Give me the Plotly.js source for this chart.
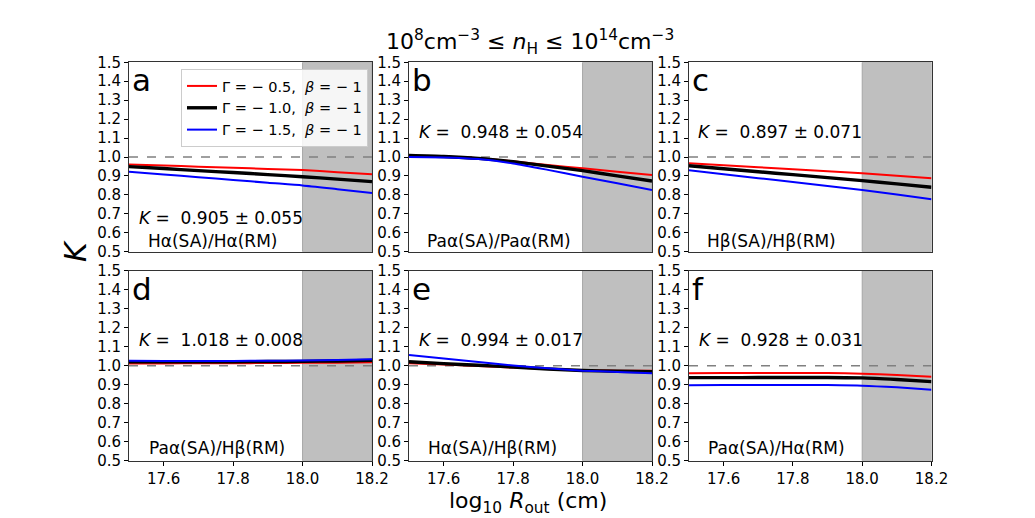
<!DOCTYPE html>
<html>
<head>
<meta charset="utf-8">
<script src="https://cdn.plot.ly/plotly-3.0.1.min.js"></script>
<style>html,body{margin:0;padding:0;background:#fff;}#chart{width:1035px;height:518px;}</style>
</head>
<body>
<div id="chart"></div>
<script>
// ---------- data ----------
const logR = [17.5, 17.6, 17.7, 17.8, 17.9, 18.0, 18.1, 18.2];

const seriesNames = [
  "\u0393 = \u2212 0.5,\u00a0 <i>\u03b2</i> = \u2212 1",
  "\u0393 = \u2212 1.0,\u00a0 <i>\u03b2</i> = \u2212 1",
  "\u0393 = \u2212 1.5,\u00a0 <i>\u03b2</i> = \u2212 1"
];

const panelLetters = ["a", "b", "c", "d", "e", "f"];
const panelRatios = ["H\u03b1(SA)/H\u03b1(RM)", "Pa\u03b1(SA)/Pa\u03b1(RM)", "H\u03b2(SA)/H\u03b2(RM)",
                     "Pa\u03b1(SA)/H\u03b2(RM)", "H\u03b1(SA)/H\u03b2(RM)", "Pa\u03b1(SA)/H\u03b1(RM)"];
const kMean = ["0.905", "0.948", "0.897", "1.018", "0.994", "0.928"];
const kErr  = ["0.055", "0.054", "0.071", "0.008", "0.017", "0.031"];

// panel a: Halpha/Halpha
const aRed   = [0.961, 0.955, 0.949, 0.943, 0.937, 0.931, 0.920, 0.909];
const aBlack = [0.949, 0.939, 0.928, 0.918, 0.907, 0.896, 0.883, 0.870];
const aBlue  = [0.922, 0.908, 0.893, 0.879, 0.864, 0.850, 0.830, 0.810];
// panel b: Paalpha/Paalpha
const bRed   = [1.007, 1.002, 0.993, 0.977, 0.958, 0.940, 0.922, 0.905];
const bBlack = [1.008, 1.003, 0.993, 0.975, 0.952, 0.928, 0.900, 0.873];
const bBlue  = [1.000, 0.998, 0.989, 0.966, 0.932, 0.896, 0.861, 0.826];
// panel c: Hbeta/Hbeta
const cRed   = [0.967, 0.956, 0.946, 0.935, 0.925, 0.914, 0.901, 0.888];
const cBlack = [0.954, 0.938, 0.922, 0.907, 0.891, 0.875, 0.858, 0.840];
const cBlue  = [0.930, 0.909, 0.888, 0.868, 0.847, 0.826, 0.802, 0.777];
// panel d: Paalpha/Hbeta
const dRed   = [1.012, 1.012, 1.013, 1.013, 1.014, 1.015, 1.016, 1.018];
const dBlack = [1.020, 1.020, 1.020, 1.021, 1.022, 1.023, 1.025, 1.028];
const dBlue  = [1.026, 1.025, 1.025, 1.025, 1.026, 1.027, 1.030, 1.034];
// panel e: Halpha/Hbeta
const eRed   = [1.013, 1.006, 0.998, 0.990, 0.982, 0.975, 0.974, 0.973];
const eBlack = [1.021, 1.011, 1.002, 0.993, 0.983, 0.975, 0.971, 0.968];
const eBlue  = [1.056, 1.038, 1.019, 1.001, 0.986, 0.974, 0.967, 0.960];
// panel f: Paalpha/Halpha
const fRed   = [0.960, 0.961, 0.962, 0.962, 0.961, 0.958, 0.951, 0.942];
const fBlack = [0.937, 0.937, 0.938, 0.938, 0.938, 0.936, 0.927, 0.916];
const fBlue  = [0.897, 0.898, 0.899, 0.899, 0.898, 0.895, 0.886, 0.874];

const yTicks = [0.5, 0.6, 0.7, 0.8, 0.9, 1.0, 1.1, 1.2, 1.3, 1.4, 1.5];
const xTicks = [17.6, 17.8, 18.0, 18.2];
const shadeStart = 18.0, shadeEnd = 18.2;
const refLine = 1.0;

// ---------- build ----------
const panels = [
  [aRed, aBlack, aBlue], [bRed, bBlack, bBlue], [cRed, cBlack, cBlue],
  [dRed, dBlack, dBlue], [eRed, eBlack, eBlue], [fRed, fBlack, fBlue]
];
const colors = ["#ff0000", "#000000", "#0000ff"];
const widths = [2, 3.4, 2];

const W = 1035, H = 518;
const px = v => v / W, py = v => 1 - v / H;
const colX = [[129, 372], [409, 652], [689, 931.5]];
const rowY = [[62.3, 251.7], [270.7, 460.7]];

const FONT = "DejaVu Sans, Arial, sans-serif";
const traces = [];
const layout = {
  width: W, height: H,
  margin: {l: 0, r: 0, t: 0, b: 0},
  paper_bgcolor: "#ffffff", plot_bgcolor: "#ffffff",
  showlegend: true,
  font: {family: FONT, color: "#000", size: 15},
  legend: {
    x: px(181), y: py(69), xanchor: "left", yanchor: "top",
    bgcolor: "rgba(255,255,255,0.85)", bordercolor: "#cccccc", borderwidth: 1,
    font: {family: FONT, size: 14.5, color: "#000"},
    itemwidth: 30, tracegroupgap: 2
  },
  shapes: [], annotations: []
};

panels.forEach((ser, i) => {
  const r = Math.floor(i / 3), c = i % 3;
  const n = i + 1;
  const xa = n === 1 ? "x" : "x" + n, ya = n === 1 ? "y" : "y" + n;
  const xk = n === 1 ? "xaxis" : "xaxis" + n, yk = n === 1 ? "yaxis" : "yaxis" + n;
  layout[xk] = {
    domain: [px(colX[c][0]), px(colX[c][1])], anchor: ya,
    range: [17.5, 18.2], tickvals: xTicks, tickformat: ".1f",
    showticklabels: r === 1, ticks: r === 1 ? "outside" : "", ticklen: 4, tickcolor: "#000",
    showline: true, mirror: true, linecolor: "#333", linewidth: 1,
    showgrid: false, zeroline: false, fixedrange: true,
    tickfont: {family: FONT, size: 15, color: "#000"}
  };
  layout[yk] = {
    domain: [py(rowY[r][1]), py(rowY[r][0])], anchor: xa,
    range: [0.5, 1.5], tickvals: yTicks, tickformat: ".1f",
    ticks: "outside", ticklen: 4, tickcolor: "#000",
    showline: true, mirror: true, linecolor: "#333", linewidth: 1,
    showgrid: false, zeroline: false, fixedrange: true,
    tickfont: {family: FONT, size: 15, color: "#000"}
  };
  // shaded region
  layout.shapes.push({type: "rect", xref: xa, yref: ya, x0: shadeStart, x1: shadeEnd, y0: 0.5, y1: 1.5,
    fillcolor: "#bfbfbf", line: {color: "#a6a6a6", width: 1}, layer: "below"});
  // reference dashed line
  layout.shapes.push({type: "line", xref: xa, yref: ya, x0: 17.5, x1: 18.2, y0: refLine, y1: refLine,
    line: {color: "#808080", width: 1.6, dash: "dash"}, layer: "below"});

  ser.forEach((vals, k) => {
    traces.push({
      x: logR, y: vals, xaxis: xa, yaxis: ya, type: "scatter", mode: "lines",
      line: {color: colors[k], width: widths[k], shape: "spline", smoothing: 0.6},
      name: seriesNames[k], showlegend: i === 0, hoverinfo: "skip"
    });
  });

  const left = colX[c][0], top = rowY[r][0];
  // panel letter
  layout.annotations.push({xref: "paper", yref: "paper", x: px(left + 1), y: py(top - 2),
    xanchor: "left", yanchor: "top", showarrow: false, text: panelLetters[i],
    font: {family: FONT, size: 31, color: "#000"}});
  // K value
  const kPos = [[221, 217.7], [501, 131.7], [780, 131.7], [221, 340], [501, 340], [781, 340]][i];
  layout.annotations.push({xref: "paper", yref: "paper", x: px(kPos[0]), y: py(kPos[1]),
    xanchor: "center", yanchor: "middle", showarrow: false,
    text: "<i>K</i> =\u00a0 " + kMean[i] + " \u00b1 " + kErr[i],
    font: {family: FONT, size: 17, color: "#000"}});
  // ratio label
  const lPos = [[212, 240.7], [499, 240.7], [771, 240.7], [217, 448.3], [492, 448.3], [776, 448.3]][i];
  layout.annotations.push({xref: "paper", yref: "paper", x: px(lPos[0]), y: py(lPos[1]),
    xanchor: "center", yanchor: "middle", showarrow: false, text: panelRatios[i],
    font: {family: FONT, size: 17, color: "#000"}});
});

// figure title & axis labels
layout.annotations.push({xref: "paper", yref: "paper", x: px(530), y: py(42),
  xanchor: "center", yanchor: "middle", showarrow: false,
  text: "10<sup>8</sup>cm<sup>\u22123</sup> \u2264 <i>n</i><sub>H</sub> \u2264 10<sup>14</sup>cm<sup>\u22123</sup>",
  font: {family: FONT, size: 22, color: "#000"}});
layout.annotations.push({xref: "paper", yref: "paper", x: px(528), y: py(502),
  xanchor: "center", yanchor: "middle", showarrow: false, borderpad: 0,
  text: "log<sub>10</sub> <i>R</i><sub>out</sub> (cm)",
  font: {family: FONT, size: 22, color: "#000"}});
layout.annotations.push({xref: "paper", yref: "paper", x: px(75), y: py(251),
  xanchor: "center", yanchor: "middle", showarrow: false, textangle: -90,
  text: "<i>K</i>", font: {family: FONT, size: 30, color: "#000"}});

Plotly.newPlot("chart", traces, layout, {staticPlot: true, displayModeBar: false});
</script>
</body>
</html>
